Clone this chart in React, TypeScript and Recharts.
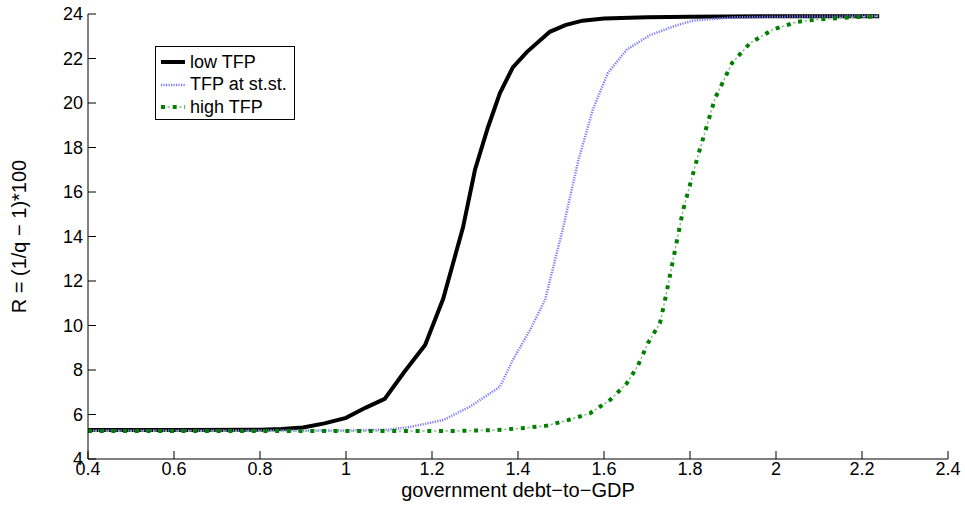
import React from 'react';
import { LineChart, Line, XAxis, YAxis } from 'recharts';

// debt-to-GDP grid and R for each TFP state
const LOW_X = [0.4, 0.6, 0.8, 0.85, 0.9, 0.95, 1.0, 1.045, 1.09, 1.135, 1.184, 1.226, 1.272, 1.3, 1.33, 1.358, 1.388, 1.421, 1.474, 1.51, 1.55, 1.6, 1.7, 1.8, 2.0, 2.24];
const LOW_R = [5.3, 5.3, 5.32, 5.35, 5.42, 5.6, 5.85, 6.3, 6.7, 7.9, 9.12, 11.2, 14.4, 17.0, 18.9, 20.45, 21.6, 22.3, 23.2, 23.5, 23.7, 23.8, 23.85, 23.88, 23.9, 23.9];

const SS_X = [0.4, 0.8, 1.0, 1.1, 1.149, 1.226, 1.288, 1.358, 1.388, 1.428, 1.463, 1.505, 1.54, 1.574, 1.609, 1.653, 1.707, 1.77, 1.807, 1.9, 2.0, 2.24];
const SS_R = [5.28, 5.28, 5.28, 5.32, 5.44, 5.75, 6.35, 7.25, 8.45, 9.8, 11.15, 14.4, 17.4, 19.7, 21.35, 22.4, 23.05, 23.5, 23.7, 23.85, 23.88, 23.9];

const HIGH_X = [0.4, 0.8, 1.0, 1.249, 1.35, 1.412, 1.467, 1.516, 1.567, 1.614, 1.653, 1.679, 1.702, 1.73, 1.742, 1.784, 1.819, 1.858, 1.898, 1.94, 1.993, 2.049, 2.095, 2.172, 2.24];
const HIGH_R = [5.26, 5.26, 5.26, 5.26, 5.3, 5.39, 5.5, 5.75, 6.05, 6.65, 7.4, 8.2, 9.2, 10.1, 11.15, 15.2, 17.66, 20.2, 21.8, 22.7, 23.3, 23.65, 23.75, 23.85, 23.9];

const X_TICKS = [0.4, 0.6, 0.8, 1, 1.2, 1.4, 1.6, 1.8, 2, 2.2, 2.4];
const Y_TICKS = [4, 6, 8, 10, 12, 14, 16, 18, 20, 22, 24];

const SERIES_NAMES = ['low TFP', 'TFP at st.st.', 'high TFP'];

const zip = (xs: number[], ys: number[]) => xs.map((x, i) => ({ x, r: ys[i] }));
const lowData = zip(LOW_X, LOW_R);
const ssData = zip(SS_X, SS_R);
const highData = zip(HIGH_X, HIGH_R);

const FONT = '"Liberation Sans", Arial, Helvetica, sans-serif';
const BLUE = '#7a7aff';
const GREEN = '#007f00';
const LIGHT_GREEN = '#8cc58c';
const BLUE_DASH = '1.2 1.3';

const fmt = (v: number) => String(v);

const LegendBox = () => (
  <div
    style={{
      position: 'absolute',
      left: 155,
      top: 46,
      width: 138,
      height: 72,
      border: '1px solid #000',
      background: '#fff',
      fontFamily: FONT,
      fontSize: 18,
      color: '#000',
      boxSizing: 'content-box',
    }}
  >
    {SERIES_NAMES.map((name, i) => (
      <div
        key={name}
        style={{ position: 'absolute', left: 0, top: 4 + i * 22.5, height: 22, display: 'flex', alignItems: 'center', whiteSpace: 'nowrap' }}
      >
        <svg width={30} height={10} style={{ marginLeft: 4 }}>
          {i === 0 && <line x1={1} y1={5} x2={25} y2={5} stroke="#000" strokeWidth={4} />}
          {i === 1 && (
            <line x1={1} y1={5} x2={25} y2={5} stroke={BLUE} strokeWidth={2.5} strokeDasharray={BLUE_DASH} />
          )}
          {i === 2 && (
            <>
              <line x1={1} y1={5} x2={25} y2={5} stroke={LIGHT_GREEN} strokeWidth={1.5} strokeDasharray="0 6.5 2.5 2.7" />
              <line x1={1} y1={5} x2={25} y2={5} stroke={GREEN} strokeWidth={4} strokeDasharray="4 7.7" />
            </>
          )}
        </svg>
        <span>{name}</span>
      </div>
    ))}
  </div>
);

export default function App() {
  return (
    <div style={{ position: 'absolute', left: 0, top: 0, width: 965, height: 513, background: '#fff' }}>
      <LineChart
        width={965}
        height={513}
        margin={{ top: 14, right: 17, bottom: 0, left: 0 }}
      >
        <XAxis
          xAxisId="b"
          type="number"
          dataKey="x"
          domain={[0.4, 2.4]}
          ticks={X_TICKS}
          tickFormatter={fmt}
          allowDataOverflow
          height={54}
          tickSize={-8}
          tickMargin={11}
          axisLine={{ stroke: '#000' }}
          tickLine={{ stroke: '#000' }}
          tick={{ fill: '#000', fontSize: 18, fontFamily: FONT }}
          label={{
            value: 'government debt\u2212to\u2212GDP',
            position: 'insideBottom',
            offset: 16,
            fill: '#000',
            fontSize: 20,
            fontFamily: FONT,
          }}
        />
        <XAxis
          xAxisId="t"
          orientation="top"
          type="number"
          dataKey="x"
          domain={[0.4, 2.4]}
          ticks={X_TICKS}
          allowDataOverflow
          height={0}
          tickSize={-8}
          tick={false}
          axisLine={{ stroke: '#000' }}
          tickLine={{ stroke: '#000' }}
        />
        <YAxis
          yAxisId="l"
          type="number"
          domain={[4, 24]}
          ticks={Y_TICKS}
          allowDataOverflow
          width={88}
          tickSize={-8}
          tickMargin={13}
          axisLine={{ stroke: '#000' }}
          tickLine={{ stroke: '#000' }}
          tick={{ fill: '#000', fontSize: 18, fontFamily: FONT }}
          label={{
            value: 'R = (1/q \u2212 1)*100',
            angle: -90,
            position: 'insideLeft',
            offset: 19,
            fill: '#000',
            fontSize: 20,
            fontFamily: FONT,
            style: { textAnchor: 'middle' },
          }}
        />
        <YAxis
          yAxisId="r"
          orientation="right"
          type="number"
          domain={[4, 24]}
          ticks={Y_TICKS}
          allowDataOverflow
          width={0}
          tickSize={-8}
          tick={false}
          axisLine={{ stroke: '#000' }}
          tickLine={{ stroke: '#000' }}
        />
        <Line
          xAxisId="b"
          yAxisId="l"
          data={lowData}
          dataKey="r"
          name={SERIES_NAMES[0]}
          type="linear"
          stroke="#000"
          strokeWidth={4}
          dot={false}
          isAnimationActive={false}
        />
        <Line
          xAxisId="b"
          yAxisId="l"
          data={ssData}
          dataKey="r"
          name={SERIES_NAMES[1]}
          type="linear"
          stroke={BLUE}
          strokeWidth={2.5}
          strokeDasharray={BLUE_DASH}
          dot={false}
          isAnimationActive={false}
        />
        <Line
          xAxisId="b"
          yAxisId="l"
          data={highData}
          dataKey="r"
          name={SERIES_NAMES[2] + ' dash'}
          type="linear"
          stroke={LIGHT_GREEN}
          strokeWidth={1.5}
          strokeDasharray="0 6.5 2.5 2.7"
          dot={false}
          isAnimationActive={false}
        />
        <Line
          xAxisId="b"
          yAxisId="l"
          data={highData}
          dataKey="r"
          name={SERIES_NAMES[2]}
          type="linear"
          stroke={GREEN}
          strokeWidth={4}
          strokeDasharray="4 7.7"
          dot={false}
          isAnimationActive={false}
        />
      </LineChart>
      <LegendBox />
    </div>
  );
}
